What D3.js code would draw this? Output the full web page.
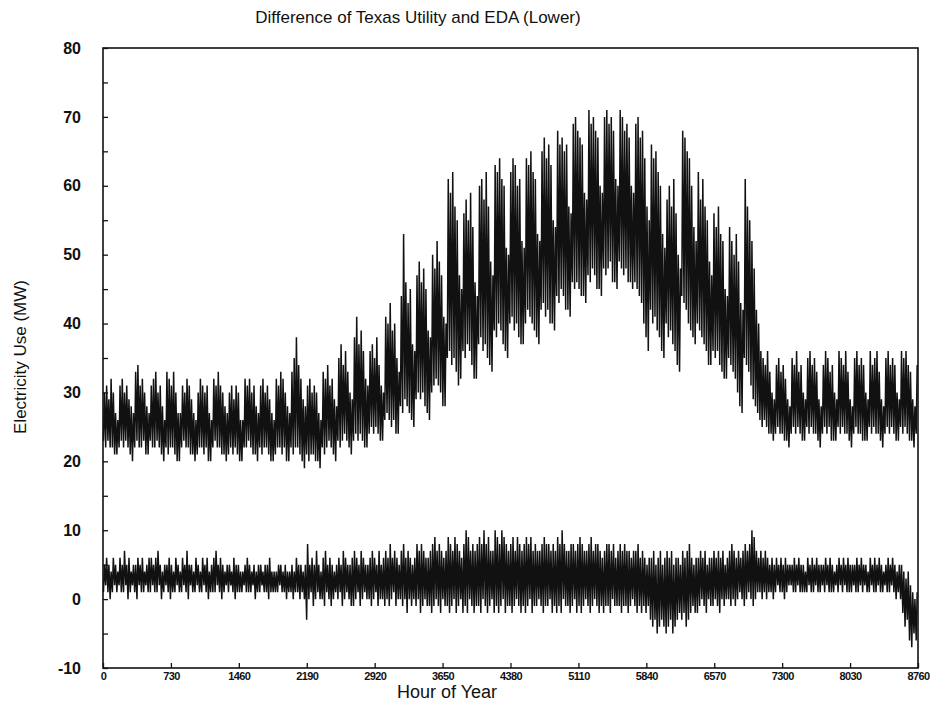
<!DOCTYPE html>
<html>
<head>
<meta charset="utf-8">
<script src="https://cdn.jsdelivr.net/npm/d3@7"></script>
<style>
  body { margin: 0; background: #fff; }
  svg { font-family: "Liberation Sans", Arial, sans-serif; }
</style>
</head>
<body>
<script>
/* tick values */
var xTicks = [0, 730, 1460, 2190, 2920, 3650, 4380, 5110, 5840, 6570, 7300, 8030, 8760];
var yTicks = [-10, -5, 0, 5, 10, 15, 20, 25, 30, 35, 40, 45, 50, 55, 60, 65, 70, 75, 80];

/* upper trace: daily high / low (MW), one row per week */
var upperMax = [
  30,31,29,32,30,27,26, 31,32,30,31,29,28,27, 33,34,31,32,30,28,27, 31,32,33,30,31,28,26,
  33,32,31,33,30,27,27, 31,30,32,31,29,27,26, 30,32,31,30,31,27,26, 32,31,33,31,30,28,27,
  30,31,29,31,30,26,26, 32,31,32,30,31,28,27, 31,32,30,31,29,27,26, 32,31,33,32,30,28,27,
  33,35,38,34,32,29,28, 31,32,30,31,30,27,26, 33,32,34,31,32,29,28, 35,37,34,36,33,30,29,
  38,41,37,39,36,32,31, 36,37,35,38,34,31,30, 41,40,43,39,40,35,33, 44,53,46,43,45,37,36,
  47,49,46,48,45,39,38, 50,48,52,49,47,41,40, 61,59,62,57,55,47,45, 56,58,55,59,54,46,44,
  60,61,58,62,57,49,47, 63,62,64,61,60,51,50, 62,64,63,60,61,52,51, 64,63,65,62,61,53,52,
  65,67,64,66,63,55,54, 68,66,67,65,66,57,56, 69,70,68,67,66,59,58, 71,69,70,68,67,60,59,
  70,71,69,70,68,61,60, 71,70,68,69,67,60,59, 69,70,67,68,64,57,55, 66,64,65,62,60,53,51,
  58,60,57,61,56,50,48, 68,67,65,64,60,54,52, 62,58,61,57,55,49,47, 56,54,57,53,52,45,44,
  54,52,50,53,49,43,42, 61,57,55,52,48,42,40, 36,35,34,36,33,30,29, 34,35,33,34,32,29,28,
  35,34,36,33,34,30,29, 35,36,34,35,33,29,28, 34,36,35,33,34,30,29, 36,35,34,36,33,29,28,
  35,36,34,35,34,30,29, 36,34,35,36,33,29,28, 35,36,34,35,34,30,29, 36,35,36,34,33,29,28,
  34
];
var upperMin = [
  23,22,23,22,22,21,21, 22,23,22,23,22,21,20, 22,23,22,22,23,21,21, 23,22,22,23,22,21,20,
  22,21,22,22,21,20,20, 22,23,22,22,21,21,20, 21,22,22,21,22,20,20, 22,23,22,22,21,21,20,
  21,22,21,22,21,20,20, 22,22,23,22,21,21,20, 22,21,22,22,21,20,20, 21,22,22,21,22,20,20,
  22,21,22,22,21,20,19, 21,20,21,21,20,20,19, 22,21,22,23,22,21,20, 23,22,23,24,23,22,21,
  23,24,23,24,23,22,22, 24,25,24,25,24,23,23, 26,27,26,25,26,24,24, 28,27,29,28,27,26,25,
  29,30,29,30,28,27,26, 30,31,32,31,30,28,28, 35,36,34,35,33,31,32, 36,35,37,36,34,32,32,
  37,38,36,37,35,34,33, 39,38,40,39,37,36,35, 40,41,39,40,38,37,37, 40,42,41,40,39,38,37,
  42,43,41,42,40,40,39, 44,43,45,44,42,42,41, 46,45,46,45,44,44,43, 47,46,48,47,45,45,44,
  48,47,48,49,46,46,45, 49,48,47,48,46,46,45, 46,45,44,43,40,38,36, 42,40,41,39,38,36,35,
  40,38,39,37,36,34,33, 44,43,42,40,39,38,37, 40,39,38,37,36,34,34, 36,35,36,34,33,32,32,
  35,34,33,32,30,28,27, 35,34,33,31,29,28,27, 26,25,26,25,24,24,23, 24,25,24,24,23,23,22,
  24,25,24,25,24,23,23, 25,24,25,24,24,23,22, 24,25,24,25,23,23,23, 25,24,25,24,24,23,22,
  24,25,24,24,23,23,23, 25,24,25,24,24,23,22, 24,25,24,25,24,23,23, 25,24,25,24,23,23,22,
  24
];

/* lower trace (difference): daily high / low (MW) */
var lowerMax = [
  5,6,5,4,6,5,4, 6,5,7,5,6,4,5, 5,6,5,6,4,5,6, 6,5,6,7,5,4,5,
  5,6,5,4,6,5,4, 6,5,7,5,5,4,6, 5,4,6,5,6,4,5, 6,7,5,6,5,4,5,
  5,4,6,5,5,4,4, 5,6,5,4,5,4,5, 5,4,5,5,6,4,4, 4,5,5,4,5,4,4,
  5,4,6,5,5,4,5, 8,5,6,5,7,5,4, 6,7,5,6,5,4,5, 6,5,7,6,5,5,6,
  7,6,5,7,6,5,5, 6,7,6,5,7,5,6, 7,6,8,6,7,6,5, 7,8,6,7,6,5,6,
  8,7,8,7,6,6,7, 8,9,7,8,7,6,7, 9,8,7,9,8,7,6, 8,10,9,7,8,7,8,
  9,8,10,8,9,7,7, 10,9,8,10,9,8,7, 8,9,7,9,8,7,8, 9,8,9,7,8,7,7,
  8,9,8,8,7,8,7, 9,8,10,8,7,7,8, 8,7,8,9,8,7,7, 8,9,7,8,8,7,6,
  7,8,8,7,8,6,7, 8,7,8,7,7,6,7, 7,8,6,7,6,5,6, 6,7,5,6,7,5,6,
  7,6,7,5,6,6,5, 7,6,7,8,6,5,6, 6,7,6,7,5,6,6, 7,6,7,6,7,5,6,
  7,8,7,6,7,6,7, 8,7,8,10,9,7,6, 7,6,7,6,5,6,5, 6,5,6,5,6,5,5,
  5,6,5,6,5,5,4, 6,5,6,5,6,5,5, 5,6,5,6,5,4,5, 6,5,6,5,6,5,5,
  5,6,5,6,5,5,4, 6,5,6,5,6,5,4, 5,6,5,6,5,4,5, 5,4,3,4,2,1,0,
  1
];
var lowerMin = [
  1,2,1,0,1,2,1, 2,1,1,2,0,1,2, 1,0,2,1,1,2,1, 1,2,1,1,2,0,1,
  2,1,0,1,1,2,1, 1,2,1,0,2,1,1, 2,1,1,2,1,0,1, 1,1,2,1,0,1,2,
  1,2,1,0,1,1,1, 2,1,1,1,2,0,1, 1,2,1,1,0,1,1, 1,1,2,1,1,0,1,
  1,0,1,1,0,1,0, -3,0,1,-1,0,1,0, 0,-1,1,0,-1,0,1, 0,1,-1,0,1,0,-1,
  -1,0,1,-1,0,1,0, 0,-1,0,1,-1,0,0, -1,0,-1,0,1,-1,0, 0,-1,0,-2,0,-1,0,
  -1,0,-2,-1,0,-1,-1, -2,-1,0,-1,-2,0,-1, -1,-2,-1,0,-2,-1,0, -2,-1,-2,0,-1,-2,-1,
  -1,-2,0,-1,-2,-1,0, -2,-1,-2,-1,0,-2,-1, -1,-2,-1,0,-1,-2,-1, -2,-1,0,-2,-1,-1,0,
  -1,-2,-1,-1,0,-2,-1, -2,-1,-2,0,-1,-1,-2, -1,0,-2,-1,-2,-1,0, -1,-2,-1,0,-1,-2,-1,
  -2,-1,-1,-2,0,-1,-1, -1,-2,-1,-1,-2,-1,0, -1,-2,-1,-2,-1,-2,-1, -3,-4,-3,-5,-4,-3,-4,
  -5,-4,-3,-5,-4,-3,-2, -3,-2,-4,-3,-2,-1,-2, -2,-1,0,-1,-2,0,-1, -1,0,-1,-2,0,-1,0,
  0,-1,0,-1,0,1,0, -1,0,1,0,-1,0,1, 1,0,1,0,1,1,0, 1,2,1,1,0,1,2,
  2,1,1,2,1,1,1, 1,2,1,1,2,1,1, 2,1,2,1,1,1,2, 1,2,1,2,1,1,1,
  2,1,1,2,1,2,1, 1,2,1,1,2,1,1, 2,1,1,2,1,0,1, 0,-2,-4,-3,-6,-7,-5,
  -6
];

var width = 940,
    height = 706,
    plotLeft = 103, plotRight = 918,
    plotTop = 48, plotBottom = 668;

var svg = d3.select('body').append('svg')
    .attr('width', width)
    .attr('height', height);

var x = d3.scaleLinear().domain([0, 8760]).range([plotLeft, plotRight]);
var y = d3.scaleLinear().domain([-10, 80]).range([plotBottom, plotTop]);

/* zigzag each day between its low (early morning) and high (afternoon) */
function dayPoints(mins, maxs) {
    var pts = [];
    mins.forEach(function(lo, d) {
        pts.push([d * 24 + 5, lo]);
        pts.push([d * 24 + 15, maxs[d]]);
    });
    return pts;
}

var line = d3.line()
    .x(d => x(d[0]))
    .y(d => y(d[1]));

svg.append('path')
    .datum(dayPoints(upperMin, upperMax))
    .attr('d', line)
    .attr('fill', 'none')
    .attr('stroke', '#111')
    .attr('stroke-width', 1.5);

svg.append('path')
    .datum(dayPoints(lowerMin, lowerMax))
    .attr('d', line)
    .attr('fill', 'none')
    .attr('stroke', '#111')
    .attr('stroke-width', 1.5);

/* frame */
svg.append('rect')
    .attr('x', plotLeft).attr('y', plotTop)
    .attr('width', plotRight - plotLeft).attr('height', plotBottom - plotTop)
    .attr('fill', 'none')
    .attr('stroke', '#111')
    .attr('stroke-width', 1.6);

var xAxis = svg.append('g')
    .attr('transform', 'translate(0,' + plotBottom + ')')
    .call(d3.axisBottom(x).tickValues(xTicks).tickSize(-5).tickPadding(4).tickFormat(d3.format('d')));
xAxis.select('.domain').remove();
xAxis.selectAll('line').attr('stroke', '#111').attr('stroke-width', 1.3);
xAxis.selectAll('text')
    .attr('fill', '#111')
    .style('font-size', '11px')
    .style('font-weight', 'bold')
    .style('letter-spacing', '-0.6px');

var yAxis = svg.append('g')
    .attr('transform', 'translate(' + plotLeft + ',0)')
    .call(d3.axisLeft(y).tickValues(yTicks).tickSize(-5).tickPadding(22)
        .tickFormat(d => d % 10 === 0 ? d : ''));
yAxis.select('.domain').remove();
yAxis.selectAll('line').attr('stroke', '#111').attr('stroke-width', 1.3);
yAxis.selectAll('text')
    .attr('fill', '#111')
    .style('font-size', '16px')
    .style('font-weight', 'bold');

svg.append('text')
    .attr('x', 418).attr('y', 23)
    .attr('text-anchor', 'middle')
    .style('font-size', '17px')
    .attr('fill', '#111')
    .text('Difference of Texas Utility and EDA (Lower)');

svg.append('text')
    .attr('x', 447).attr('y', 698)
    .attr('text-anchor', 'middle')
    .style('font-size', '18px')
    .attr('fill', '#111')
    .text('Hour of Year');

svg.append('text')
    .attr('transform', 'translate(26,357) rotate(-90)')
    .attr('text-anchor', 'middle')
    .style('font-size', '17px')
    .attr('fill', '#111')
    .text('Electricity Use (MW)');
</script>
</body>
</html>
